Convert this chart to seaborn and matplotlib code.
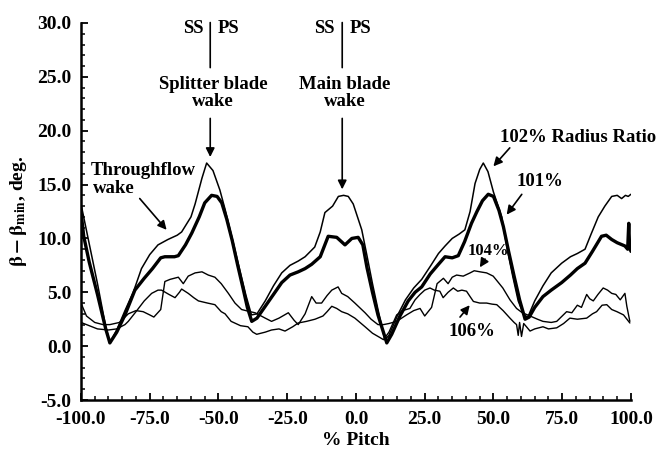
import matplotlib
matplotlib.use("Agg")
import matplotlib.pyplot as plt
import seaborn as sns
from matplotlib.ticker import FormatStrFormatter, MultipleLocator

# Données (% pitch, beta - beta_min en degrés)
x_102 = [-100, -97, -94, -91, -89.5, -87, -84, -81, -78, -75, -72, -68.4, -65, -63.4,
         -60, -58.5, -56, -54.3, -52, -49.5, -47.6, -45, -42, -40, -38, -36, -33, -30,
         -27, -24, -21, -18.5, -15, -13, -11.3, -8.5, -6.4, -4.5, -2.8, -1, 2.1, 4, 6,
         8, 10.5, 12, 15, 18, 21, 23.9, 27, 30, 32.4, 35, 37.5, 39.6, 41.5, 43.3, 45,
         46.3, 48, 50, 53, 55, 57, 59, 61, 62.5, 65, 68, 71, 74.8, 78, 80.5, 83.3, 85.5,
         88.1, 90.5, 93, 95, 96.6, 98, 99, 100]
y_102 = [13.2, 9.5, 5.8, 1.8, 0.3, 1.5, 3.3, 5.0, 7.2, 8.5, 9.4, 9.9, 10.3, 10.6,
         12.0, 13.2, 15.6, 17.0, 16.3, 14.5, 12.7, 10.0, 6.8, 4.7, 2.9, 3.0, 4.2, 5.6,
         6.8, 7.5, 7.9, 8.3, 9.2, 10.6, 12.4, 13.0, 13.9, 14.0, 13.9, 13.2, 10.8, 8.4, 5.8,
         3.4, 0.6, 1.0, 2.8, 4.3, 5.4, 6.2, 7.4, 8.6, 9.3, 10.0, 10.4, 10.8, 12.5, 15.1, 16.4,
         17.0, 16.2, 14.3, 12.0, 9.0, 6.5, 4.2, 2.9, 2.7, 4.2, 5.6, 6.8, 7.7, 8.3, 8.6, 9.0, 10.4,
         12.0, 13.0, 13.9, 14.0, 13.7, 14.0, 13.9, 14.1]

x_101 = [-100, -99, -97, -94, -91, -89.5, -87, -84, -80.4, -77, -74, -71, -69.5, -66,
         -64.6, -62, -59.7, -57, -55, -52.5, -50.5, -48.8, -47, -45, -43, -41, -39.5,
         -37.9, -36, -33, -30, -27, -24, -21, -18.5, -16.1, -13, -10.1, -7, -4, -1.5, 0.8,
         2.5, 4, 6, 8, 11.2, 13, 16, 19, 21.5, 23.9, 27, 30, 32.4, 35, 37.2, 39.5, 42, 44,
         46, 48.1, 50, 52, 53.6, 55.5, 57.5, 59.5, 61.5, 63, 65, 68, 71, 74.8, 78, 80.5,
         83.3, 86, 89.3, 91, 93, 95, 97.8, 98.8, 99.2, 99.5, 100]
y_101 = [12.5, 10.2, 7.8, 4.8, 1.6, 0.3, 1.3, 2.9, 5.2, 6.3, 7.2, 8.2, 8.3, 8.3,
         8.4, 9.4, 10.5, 12.0, 13.3, 14.0, 13.9, 13.3, 11.8, 9.8, 7.5, 5.3, 3.6,
         2.3, 2.6, 3.7, 4.8, 5.9, 6.6, 6.9, 7.2, 7.6, 8.3, 10.2, 10.1, 9.4, 10.0, 10.1,
         9.4, 7.3, 5.0, 2.9, 0.3, 1.1, 2.8, 4.2, 5.0, 5.5, 6.7, 7.6, 8.3, 8.2, 8.4, 9.7, 11.4, 12.5,
         13.5, 14.1, 13.9, 12.6, 11.1, 8.8, 6.5, 4.3, 2.5, 2.7, 3.6, 4.6, 5.2, 5.9, 6.6, 7.2,
         7.7, 8.8, 10.2, 10.3, 9.9, 9.6, 9.3, 9.0, 11.4, 9.2, 8.8]

x_104 = [-100, -98, -95, -92, -89.5, -86, -82.8, -80, -77.4, -75, -73.5, -71, -69.5,
         -67.6, -64.6, -62.8, -61, -58.5, -56, -53.7, -51.3, -49, -46.4, -44, -41.6,
         -38.5, -36.7, -33, -30.7, -28, -24.6, -22.5, -21, -18.5, -16.1, -14.5, -12.5,
         -10.5, -8.8, -6.5, -5.2, -3, -0.4, 3.3, 5.5, 8, 10, 12, 14.8, 18.4, 21, 23.3, 25,
         27.5, 29.5, 31.8, 33.5, 35, 36.6, 39, 41.5, 43, 45.1, 47.5, 49.9, 51.5, 53.4, 56,
         58.4, 60.5, 63.3, 66, 68, 71, 73, 75, 76.6, 78.5, 80.5, 82, 83.9, 85, 86.3, 88,
         89.9, 91.5, 93, 94.5, 96.1, 97.8, 98.5, 99.6]
y_104 = [4.0, 2.8, 2.2, 2.0, 2.0, 2.2, 3.0, 3.3, 3.2, 2.9, 2.7, 3.4, 6.0,
         6.2, 6.4, 5.8, 6.5, 6.8, 6.9, 6.6, 6.4, 5.8, 4.9, 4.0, 3.4,
         3.2, 3.1, 2.6, 2.3, 2.6, 3.1, 2.4, 2.0, 3.0, 4.6, 4.0, 4.0,
         4.7, 5.2, 5.5, 4.9, 4.6, 4.0, 3.1, 2.5, 2.0, 2.0, 2.1, 2.3, 2.9, 3.3, 3.5, 2.8,
         3.6, 5.8, 6.3, 5.8, 6.4, 6.6, 6.5, 6.8, 7.0, 6.9, 6.8, 6.5, 6.0, 5.4, 4.3,
         3.5, 3.1, 2.8, 2.5, 2.3, 2.2, 2.3, 2.8, 3.2, 3.1, 3.8, 3.6, 4.8, 4.4, 4.2, 4.8,
         5.4, 5.2, 4.9, 4.8, 4.3, 4.9, 3.7, 2.3]

x_106 = [-100, -97, -94, -90, -87, -84, -82.8, -80, -77, -74.3, -72, -70.7, -68, -65.8,
         -64.2, -63.4, -61, -59, -57.3, -54, -51.3, -49, -47.6, -45.4, -42, -39.3, -37.5,
         -36.1, -33, -30.7, -28, -25.8, -23, -21, -18, -14.9, -12, -10.5, -8.8, -7, -5.2,
         -3, -0.4, 3.3, 6, 8.7, 10, 12, 14.8, 17, 19.6, 21.5, 23.3, 25, 26.9, 28.5, 30.5,
         31.7, 33.5, 35.4, 37, 38.5, 40.2, 41.5, 42.7, 45, 47.5, 49.5, 51.2, 53.5, 56, 57.5,
         58.4, 59, 59.5, 60.2, 61, 62, 63.3, 65, 68, 70, 73, 75.5, 77.8, 80.5, 83.9, 86,
         87.5, 89.5, 91.2, 93, 94.9, 97.3, 99.6]
y_106 = [2.2, 1.9, 1.6, 1.5, 1.6, 2.0, 2.3, 3.2, 4.2, 4.9, 5.2, 5.2, 4.8, 4.5,
         5.0, 5.3, 4.9, 4.5, 4.2, 4.0, 3.85, 3.2, 3.0, 2.3, 1.9, 1.8, 1.3,
         1.1, 1.3, 1.5, 1.6, 1.4, 1.8, 2.15, 2.3, 2.5, 2.8, 3.2, 3.7, 3.5, 3.2,
         3.0, 2.6, 1.8, 1.2, 0.8, 0.6, 1.3, 2.9, 3.3, 3.5, 4.3, 4.8, 5.2, 5.4, 5.2, 5.1,
         4.5, 5.0, 5.4, 5.1, 5.2, 5.1, 4.6, 4.15, 4.0, 4.0, 3.9, 3.85, 3.3, 2.6, 2.2,
         2.0, 1.0, 2.2, 0.9, 2.1, 1.8, 1.4, 1.6, 1.8, 1.6, 1.7, 2.1, 2.6, 2.5, 2.6, 3.0,
         3.2, 3.8, 3.85, 3.4, 3.2, 2.9, 2.15]

sns.set_style("ticks")
plt.rcParams["font.family"] = ["Liberation Serif", "DejaVu Serif"]
plt.rcParams["font.weight"] = "bold"
plt.rcParams["mathtext.fontset"] = "stix"
for key in ["axes.edgecolor", "xtick.color", "ytick.color", "text.color", "axes.labelcolor"]:
    plt.rcParams[key] = "black"

fig = plt.figure(figsize=(6.6, 4.5), dpi=100)
ax = fig.add_axes([0.1227, 0.1111, 0.8333, 0.8378])

# Courbes (fines pour 102/104/106 %, épaisse pour 101 %)
for xs, ys, lw in [(x_102, y_102, 1.1), (x_104, y_104, 1.0),
                   (x_106, y_106, 1.0), (x_101, y_101, 2.4)]:
    sns.lineplot(x=xs, y=ys, ax=ax, color="black", linewidth=lw,
                 estimator=None, sort=False)

ax.set_xlim(-100, 100)
ax.set_ylim(-5, 30)
ax.xaxis.set_major_locator(MultipleLocator(25))
ax.xaxis.set_minor_locator(MultipleLocator(5))
ax.yaxis.set_major_locator(MultipleLocator(5))
ax.yaxis.set_minor_locator(MultipleLocator(1))
ax.xaxis.set_major_formatter(FormatStrFormatter("%.1f"))
ax.yaxis.set_major_formatter(FormatStrFormatter("%.1f"))
ax.tick_params(which="major", direction="in", length=5, width=1.3, labelsize=14)
ax.tick_params(axis="x", which="major", pad=8)
ax.tick_params(axis="y", which="major", pad=7)
ax.tick_params(which="minor", direction="in", length=3, width=1.1)
for lab in ax.get_xticklabels() + ax.get_yticklabels():
    lab.set_fontweight("bold")
sns.despine(ax=ax)
for side in ["left", "bottom"]:
    ax.spines[side].set_linewidth(1.8)

ax.set_xlabel("% Pitch", fontsize=14, fontweight="bold", labelpad=3)
ax.set_ylabel(r"$\mathbf{\beta - \beta_{min}}$, deg.", fontsize=14,
              fontweight="bold", labelpad=6)

# Annotations
fs = 13.5
arrow = dict(arrowstyle="-|>", color="black", lw=1.2, mutation_scale=13)
line = dict(arrowstyle="-", color="black", lw=1.2)

for x_sep, x_ss, x_ps, lab in [(-53, -59.3, -46.5, "Splitter blade\nwake"),
                               (-5, -11.5, 1.5, "Main blade\nwake")]:
    ax.text(x_ss, 29.5, "SS", ha="center", va="center", fontsize=fs, fontweight="bold")
    ax.text(x_ps, 29.5, "PS", ha="center", va="center", fontsize=fs, fontweight="bold")
    ax.annotate("", xy=(x_sep, 30.3), xytext=(x_sep, 25.6), arrowprops=line,
                annotation_clip=False)
    ax.text(x_sep + 1, 23.5, lab, ha="center", va="center", fontsize=fs,
            fontweight="bold", linespacing=0.95)

ax.annotate("", xy=(-53, 17.3), xytext=(-53, 21.4), arrowprops=arrow)
ax.annotate("", xy=(-5, 14.3), xytext=(-5, 21.4), arrowprops=arrow)

ax.text(-96.5, 16.3, "Throughflow", ha="left", va="center", fontsize=fs, fontweight="bold")
ax.text(-95.5, 14.6, "wake", ha="left", va="center", fontsize=fs, fontweight="bold")
ax.annotate("", xy=(-68.2, 10.6), xytext=(-79.3, 13.9), arrowprops=arrow)

ax.text(52.4, 19.4, "102% Radius Ratio", ha="left", va="center", fontsize=fs,
        fontweight="bold")
ax.annotate("", xy=(49.3, 16.5), xytext=(56.6, 18.6), arrowprops=arrow)

ax.text(58.4, 15.3, "101%", ha="left", va="center", fontsize=fs, fontweight="bold")
ax.annotate("", xy=(54.2, 12.0), xytext=(60.9, 14.3), arrowprops=arrow)

ax.text(40.7, 8.85, "104%", ha="left", va="center", fontsize=12, fontweight="bold")
ax.annotate("", xy=(44.5, 7.1), xytext=(47.5, 8.3), arrowprops=arrow)

ax.text(33.5, 1.35, "106%", ha="left", va="center", fontsize=fs, fontweight="bold")
ax.annotate("", xy=(42, 4.0), xytext=(37.2, 2.5), arrowprops=arrow)

fig.savefig("out.png", dpi=100)
